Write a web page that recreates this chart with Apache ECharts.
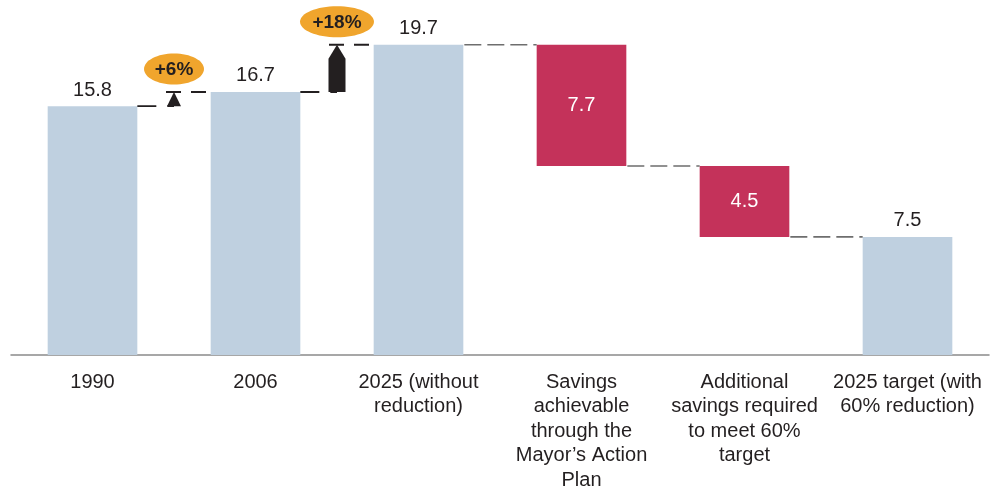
<!DOCTYPE html>
<html>
<head>
<meta charset="utf-8">
<script src="https://cdn.jsdelivr.net/npm/echarts@6/dist/echarts.min.js"></script>
<style>
  html, body { margin: 0; padding: 0; background: #ffffff; }
  #chart { width: 1001px; height: 490px; }
</style>
</head>
<body>
<div id="chart"></div>
<script>
// Emissions waterfall: totals and reductions (million tonnes CO2)
const categories = [
  '1990',
  '2006',
  '2025 (without\nreduction)',
  'Savings\nachievable\nthrough the\nMayor\u2019s Action\nPlan',
  'Additional\nsavings required\nto meet 60%\ntarget',
  '2025 target (with\n60% reduction)'
];
const barValues = [15.8, 16.7, 19.7, 7.7, 4.5, 7.5];
const barKinds = ['total', 'total', 'total', 'decrease', 'decrease', 'total'];

const TOTAL_COLOR = '#bfd0e0';
const DECREASE_COLOR = '#c4325a';
const BADGE_COLOR = '#f0a52d';
const BAR_RATIO = 0.55;
const FONT = '"Liberation Sans", Arial, sans-serif';

// Invisible bases for the floating reduction bars
const baseValues = [];
const topLevels = [];
const bottomLevels = [];
let level = 0;
barValues.forEach((v, i) => {
  if (barKinds[i] === 'total') {
    baseValues.push(0);
    level = v;
    topLevels.push(v);
    bottomLevels.push(0);
  } else {
    const b = level - v;
    baseValues.push(Math.round(b * 10) / 10);
    topLevels.push(level);
    bottomLevels.push(b);
    level = b;
  }
});

// Connector between neighbouring bars: [gapIndex, fromLevel, toLevel]
const connectors = [];
for (let i = 0; i < barValues.length - 1; i++) {
  const from = barKinds[i] === 'total' ? barValues[i] : bottomLevels[i];
  const to = topLevels[i + 1];
  connectors.push([i, from, to]);
}

function renderConnector(params, api) {
  const i = api.value(0);
  const from = api.value(1);
  const to = api.value(2);
  const band = api.size([1, 0])[0];
  const half = band * BAR_RATIO / 2;
  const pFrom = api.coord([i, from]);
  const pTo = api.coord([i + 1, to]);
  const xL = pFrom[0] + half;
  const xR = pTo[0] - half;
  const children = [];

  if (Math.abs(from - to) < 1e-9) {
    children.push({
      type: 'line',
      shape: { x1: xL + 1, y1: pFrom[1], x2: xR, y2: pFrom[1] },
      style: { stroke: '#6e6e6e', lineWidth: 1.6, lineDash: [17, 6] }
    });
    return { type: 'group', children: children };
  }

  // Growth step: dashed steps joined by an upward arrow with a percent badge
  const xm = (pFrom[0] + pTo[0]) / 2;
  const yA = pFrom[1];
  const yB = pTo[1];
  children.push({
    type: 'line',
    shape: { x1: xL, y1: yA, x2: xm, y2: yA },
    style: { stroke: '#231f20', lineWidth: 1.8, lineDash: [19, 11] }
  });
  children.push({
    type: 'line',
    shape: { x1: xm - 8, y1: yB, x2: xR, y2: yB },
    style: { stroke: '#231f20', lineWidth: 1.8, lineDash: [15, 10] }
  });
  const h = yA - yB;
  const head = 14;
  let pts;
  if (h <= head + 1) {
    const w = 7;
    pts = [[xm, yB], [xm + w, yA], [xm - w, yA]];
  } else {
    const w = 8.5;
    pts = [[xm, yB], [xm + w, yB + head], [xm + w, yA], [xm - w, yA], [xm - w, yB + head]];
  }
  children.push({
    type: 'polygon',
    shape: { points: pts },
    style: { fill: '#231f20' }
  });
  const pct = '+' + Math.round((to / from - 1) * 100) + '%';
  const rx = pct.length > 3 ? 37 : 30;
  children.push({
    type: 'ellipse',
    shape: { cx: xm, cy: yB - 23, rx: rx, ry: 15.5 },
    style: { fill: BADGE_COLOR }
  });
  children.push({
    type: 'text',
    style: {
      x: xm, y: yB - 22, text: pct,
      fill: '#231f20', font: 'bold 19px ' + FONT,
      align: 'center', verticalAlign: 'middle'
    }
  });
  return { type: 'group', children: children };
}

const chart = echarts.init(document.getElementById('chart'), null, { renderer: 'canvas' });
chart.setOption({
  animation: false,
  grid: { left: 11, right: 12, top: 40, bottom: 135, containLabel: false, outerBoundsMode: 'none' },
  xAxis: {
    type: 'category',
    data: categories,
    axisLine: { lineStyle: { color: '#8a8a8a', width: 1.5 } },
    axisTick: { show: false },
    axisLabel: {
      interval: 0, margin: 15, color: '#231f20',
      fontFamily: FONT, fontSize: 20, lineHeight: 24.5
    }
  },
  yAxis: {
    type: 'value', min: 0, max: 20,
    show: false
  },
  series: [
    {
      type: 'bar', stack: 'w', barWidth: (BAR_RATIO * 100) + '%',
      data: baseValues,
      itemStyle: { color: 'transparent' },
      silent: true
    },
    {
      type: 'bar', stack: 'w', barWidth: (BAR_RATIO * 100) + '%',
      data: barValues.map((v, i) => ({
        value: v,
        itemStyle: { color: barKinds[i] === 'total' ? TOTAL_COLOR : DECREASE_COLOR },
        label: barKinds[i] === 'total'
          ? { position: 'top', distance: 6, color: '#231f20' }
          : { position: 'inside', color: '#ffffff' }
      })),
      label: {
        show: true, fontFamily: FONT, fontSize: 20,
        formatter: p => p.value.toFixed(1)
      }
    },
    {
      type: 'custom',
      renderItem: renderConnector,
      data: connectors,
      z: 5,
      silent: true
    }
  ]
});
</script>
</body>
</html>
